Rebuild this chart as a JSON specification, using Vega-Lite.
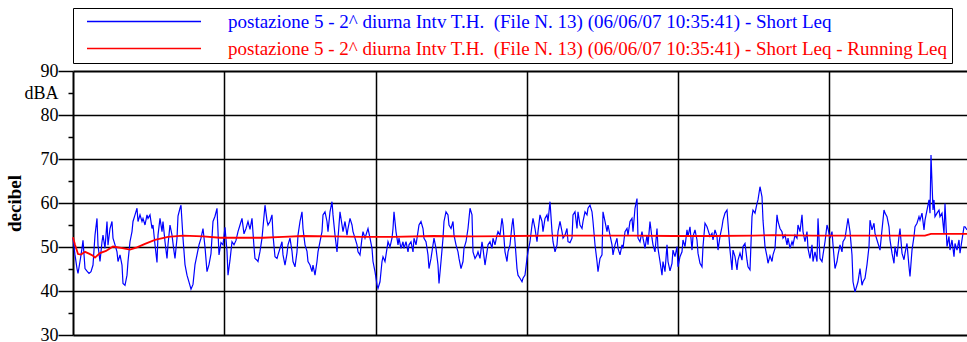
{
"$schema": "https://vega.github.io/schema/vega-lite/v6.json",
"width": 894, "height": 264,
"autosize": {"type": "none"},
"padding": {"left": 73, "top": 71, "right": 0, "bottom": 7},
"background": "white",
"config": {"font": "Liberation Serif", "view": {"stroke": null}},
"data": {"values": [
{"t":0,"v":52,"s":"short"},{"t":2,"v":48.2,"s":"short"},{"t":4,"v":45.1,"s":"short"},{"t":5,"v":44,"s":"short"},{"t":7,"v":46.7,"s":"short"},{"t":9,"v":49.7,"s":"short"},{"t":10,"v":51.5,"s":"short"},{"t":12,"v":45.1,"s":"short"},{"t":14,"v":44.5,"s":"short"},{"t":16,"v":44,"s":"short"},{"t":18,"v":44.4,"s":"short"},{"t":20,"v":45.9,"s":"short"},{"t":22,"v":52.7,"s":"short"},{"t":24,"v":56.5,"s":"short"},{"t":25,"v":50.4,"s":"short"},{"t":27,"v":46.7,"s":"short"},{"t":29,"v":51.2,"s":"short"},{"t":30,"v":52.7,"s":"short"},{"t":32,"v":49.7,"s":"short"},{"t":34,"v":55.8,"s":"short"},{"t":35,"v":50.4,"s":"short"},{"t":37,"v":54.2,"s":"short"},{"t":39,"v":55.8,"s":"short"},{"t":40,"v":52,"s":"short"},{"t":42,"v":50.5,"s":"short"},{"t":44,"v":48.9,"s":"short"},{"t":45,"v":46.7,"s":"short"},{"t":47,"v":48.2,"s":"short"},{"t":49,"v":45.9,"s":"short"},{"t":50,"v":41.7,"s":"short"},{"t":52,"v":41.3,"s":"short"},{"t":54,"v":43.6,"s":"short"},{"t":55,"v":46.7,"s":"short"},{"t":57,"v":51.2,"s":"short"},{"t":59,"v":53.5,"s":"short"},{"t":60,"v":55.8,"s":"short"},{"t":62,"v":57.3,"s":"short"},{"t":64,"v":58.8,"s":"short"},{"t":65,"v":55.8,"s":"short"},{"t":67,"v":57.3,"s":"short"},{"t":69,"v":55.8,"s":"short"},{"t":70,"v":56.5,"s":"short"},{"t":72,"v":55,"s":"short"},{"t":74,"v":57.3,"s":"short"},{"t":75,"v":56.5,"s":"short"},{"t":77,"v":57.3,"s":"short"},{"t":79,"v":54.2,"s":"short"},{"t":80,"v":55,"s":"short"},{"t":82,"v":50.5,"s":"short"},{"t":84,"v":46.5,"s":"short"},{"t":85,"v":52.7,"s":"short"},{"t":87,"v":56.5,"s":"short"},{"t":89,"v":53.5,"s":"short"},{"t":90,"v":55.8,"s":"short"},{"t":92,"v":51.2,"s":"short"},{"t":94,"v":47.4,"s":"short"},{"t":95,"v":50.5,"s":"short"},{"t":97,"v":55,"s":"short"},
{"t":99,"v":52.7,"s":"short"},{"t":101,"v":49,"s":"short"},{"t":102,"v":47.4,"s":"short"},{"t":104,"v":52,"s":"short"},{"t":105,"v":57,"s":"short"},{"t":107,"v":58.8,"s":"short"},{"t":108,"v":59.5,"s":"short"},{"t":110,"v":52,"s":"short"},{"t":112,"v":46,"s":"short"},{"t":114,"v":43.6,"s":"short"},{"t":116,"v":42,"s":"short"},{"t":118,"v":40.4,"s":"short"},{"t":120,"v":41.5,"s":"short"},{"t":122,"v":46,"s":"short"},{"t":124,"v":48.2,"s":"short"},{"t":126,"v":50.5,"s":"short"},{"t":128,"v":52,"s":"short"},{"t":130,"v":54.2,"s":"short"},{"t":132,"v":50,"s":"short"},{"t":134,"v":44.4,"s":"short"},{"t":136,"v":46,"s":"short"},{"t":138,"v":48.5,"s":"short"},{"t":140,"v":55.8,"s":"short"},{"t":142,"v":57,"s":"short"},{"t":144,"v":58.8,"s":"short"},{"t":146,"v":48.2,"s":"short"},{"t":148,"v":51,"s":"short"},{"t":150,"v":50.5,"s":"short"},{"t":152,"v":54.5,"s":"short"},{"t":154,"v":49,"s":"short"},{"t":155,"v":43.6,"s":"short"},{"t":157,"v":47,"s":"short"},{"t":159,"v":51.2,"s":"short"},{"t":161,"v":50.5,"s":"short"},{"t":163,"v":51.5,"s":"short"},{"t":165,"v":53.5,"s":"short"},{"t":167,"v":55,"s":"short"},{"t":169,"v":56.5,"s":"short"},{"t":171,"v":53,"s":"short"},{"t":173,"v":54.2,"s":"short"},{"t":175,"v":55.8,"s":"short"},{"t":177,"v":54,"s":"short"},{"t":179,"v":56.5,"s":"short"},{"t":181,"v":50,"s":"short"},{"t":182,"v":47.4,"s":"short"},{"t":184,"v":47,"s":"short"},{"t":185,"v":46.7,"s":"short"},{"t":187,"v":49,"s":"short"},{"t":189,"v":52,"s":"short"},{"t":191,"v":57,"s":"short"},{"t":192,"v":59.5,"s":"short"},{"t":194,"v":56,"s":"short"},{"t":195,"v":55,"s":"short"},
{"t":197,"v":55.8,"s":"short"},{"t":199,"v":57.3,"s":"short"},{"t":200,"v":52.7,"s":"short"},{"t":202,"v":47.8,"s":"short"},{"t":204,"v":47.4,"s":"short"},{"t":205,"v":48.2,"s":"short"},{"t":207,"v":49.7,"s":"short"},{"t":209,"v":51.2,"s":"short"},{"t":210,"v":48.2,"s":"short"},{"t":212,"v":45.9,"s":"short"},{"t":214,"v":48.5,"s":"short"},{"t":215,"v":50.5,"s":"short"},{"t":217,"v":52,"s":"short"},{"t":219,"v":49,"s":"short"},{"t":220,"v":46.7,"s":"short"},{"t":222,"v":45.5,"s":"short"},{"t":224,"v":48.9,"s":"short"},{"t":225,"v":52.7,"s":"short"},{"t":227,"v":55.8,"s":"short"},{"t":229,"v":58,"s":"short"},{"t":230,"v":54.2,"s":"short"},{"t":232,"v":50.5,"s":"short"},{"t":234,"v":49,"s":"short"},{"t":235,"v":46.7,"s":"short"},{"t":237,"v":45.9,"s":"short"},{"t":239,"v":44.4,"s":"short"},{"t":240,"v":45.9,"s":"short"},{"t":242,"v":43.6,"s":"short"},{"t":244,"v":46.7,"s":"short"},{"t":245,"v":48.9,"s":"short"},{"t":247,"v":51.2,"s":"short"},{"t":249,"v":53.5,"s":"short"},{"t":250,"v":57.3,"s":"short"},{"t":252,"v":58,"s":"short"},{"t":254,"v":55.8,"s":"short"},{"t":255,"v":53.5,"s":"short"},{"t":257,"v":58,"s":"short"},{"t":259,"v":60.3,"s":"short"},{"t":260,"v":57.3,"s":"short"},{"t":262,"v":52.7,"s":"short"},{"t":264,"v":48.9,"s":"short"},{"t":265,"v":52,"s":"short"},{"t":267,"v":58,"s":"short"},{"t":269,"v":55,"s":"short"},{"t":270,"v":53.5,"s":"short"},{"t":272,"v":55.8,"s":"short"},{"t":274,"v":52.7,"s":"short"},{"t":275,"v":54.2,"s":"short"},{"t":277,"v":56.5,"s":"short"},{"t":279,"v":55,"s":"short"},{"t":280,"v":53.5,"s":"short"},{"t":282,"v":52,"s":"short"},{"t":284,"v":50.5,"s":"short"},{"t":285,"v":48.9,"s":"short"},{"t":287,"v":48.2,"s":"short"},{"t":289,"v":52,"s":"short"},{"t":290,"v":53.5,"s":"short"},{"t":292,"v":52,"s":"short"},{"t":294,"v":53.5,"s":"short"},{"t":295,"v":54.2,"s":"short"},
{"t":297,"v":52,"s":"short"},{"t":299,"v":49.7,"s":"short"},{"t":300,"v":46.7,"s":"short"},{"t":302,"v":44.4,"s":"short"},{"t":304,"v":41.4,"s":"short"},{"t":305,"v":40.6,"s":"short"},{"t":307,"v":42.1,"s":"short"},{"t":309,"v":46.7,"s":"short"},{"t":310,"v":47.8,"s":"short"},{"t":312,"v":46.7,"s":"short"},{"t":314,"v":49.7,"s":"short"},{"t":315,"v":51.2,"s":"short"},{"t":317,"v":50,"s":"short"},{"t":319,"v":52,"s":"short"},{"t":320,"v":54.2,"s":"short"},{"t":321,"v":58,"s":"short"},{"t":323,"v":53.5,"s":"short"},{"t":325,"v":50.5,"s":"short"},{"t":326,"v":52,"s":"short"},{"t":328,"v":49.7,"s":"short"},{"t":330,"v":51.2,"s":"short"},{"t":331,"v":49.7,"s":"short"},{"t":333,"v":51.2,"s":"short"},{"t":335,"v":48.9,"s":"short"},{"t":336,"v":50.5,"s":"short"},{"t":338,"v":51.2,"s":"short"},{"t":340,"v":48.9,"s":"short"},{"t":341,"v":52,"s":"short"},{"t":343,"v":50.5,"s":"short"},{"t":345,"v":53.5,"s":"short"},{"t":346,"v":55,"s":"short"},{"t":348,"v":55.8,"s":"short"},{"t":350,"v":54.2,"s":"short"},{"t":351,"v":52,"s":"short"},{"t":353,"v":51.2,"s":"short"},{"t":355,"v":48.2,"s":"short"},{"t":356,"v":45.1,"s":"short"},{"t":358,"v":47.4,"s":"short"},{"t":360,"v":50.5,"s":"short"},{"t":361,"v":52,"s":"short"},{"t":363,"v":49.7,"s":"short"},{"t":365,"v":45.9,"s":"short"},{"t":366,"v":41.7,"s":"short"},{"t":368,"v":46.7,"s":"short"},{"t":370,"v":52,"s":"short"},{"t":371,"v":55.8,"s":"short"},{"t":373,"v":58,"s":"short"},{"t":375,"v":57.3,"s":"short"},{"t":376,"v":55,"s":"short"},{"t":378,"v":54.2,"s":"short"},{"t":380,"v":55.8,"s":"short"},{"t":381,"v":52.7,"s":"short"},{"t":383,"v":50.5,"s":"short"},{"t":385,"v":48.9,"s":"short"},{"t":386,"v":47.4,"s":"short"},{"t":388,"v":45.1,"s":"short"},{"t":390,"v":46.7,"s":"short"},{"t":391,"v":49.7,"s":"short"},{"t":393,"v":51.2,"s":"short"},{"t":395,"v":54.2,"s":"short"},{"t":396,"v":56.5,"s":"short"},
{"t":397,"v":58.8,"s":"short"},{"t":399,"v":57.3,"s":"short"},{"t":400,"v":48.9,"s":"short"},{"t":402,"v":47.4,"s":"short"},{"t":404,"v":48.2,"s":"short"},{"t":405,"v":48.9,"s":"short"},{"t":407,"v":47.4,"s":"short"},{"t":409,"v":51.2,"s":"short"},{"t":410,"v":49.7,"s":"short"},{"t":412,"v":45.9,"s":"short"},{"t":414,"v":48.9,"s":"short"},{"t":415,"v":50.5,"s":"short"},{"t":417,"v":51.2,"s":"short"},{"t":419,"v":49.7,"s":"short"},{"t":420,"v":52,"s":"short"},{"t":422,"v":50.5,"s":"short"},{"t":424,"v":52.7,"s":"short"},{"t":425,"v":53.5,"s":"short"},{"t":427,"v":52.7,"s":"short"},{"t":429,"v":56.5,"s":"short"},{"t":430,"v":55,"s":"short"},{"t":432,"v":48.9,"s":"short"},{"t":434,"v":46.7,"s":"short"},{"t":435,"v":48.9,"s":"short"},{"t":437,"v":50.5,"s":"short"},{"t":439,"v":55,"s":"short"},{"t":440,"v":56.5,"s":"short"},{"t":442,"v":51.2,"s":"short"},{"t":444,"v":45.1,"s":"short"},{"t":445,"v":43.6,"s":"short"},{"t":447,"v":42.9,"s":"short"},{"t":449,"v":42.1,"s":"short"},{"t":450,"v":42.9,"s":"short"},{"t":452,"v":43.6,"s":"short"},{"t":454,"v":47.4,"s":"short"},{"t":455,"v":48.9,"s":"short"},{"t":457,"v":51.2,"s":"short"},{"t":459,"v":55,"s":"short"},{"t":460,"v":56.5,"s":"short"},{"t":462,"v":54.2,"s":"short"},{"t":464,"v":51.2,"s":"short"},{"t":465,"v":53.5,"s":"short"},{"t":467,"v":57.3,"s":"short"},{"t":469,"v":55.8,"s":"short"},{"t":470,"v":53.5,"s":"short"},{"t":472,"v":56.5,"s":"short"},{"t":474,"v":57.3,"s":"short"},{"t":475,"v":55.8,"s":"short"},{"t":477,"v":60.3,"s":"short"},{"t":479,"v":53.5,"s":"short"},{"t":480,"v":51.2,"s":"short"},{"t":482,"v":48.9,"s":"short"},{"t":484,"v":50.5,"s":"short"},{"t":485,"v":53.5,"s":"short"},{"t":487,"v":55.8,"s":"short"},{"t":489,"v":53.5,"s":"short"},{"t":490,"v":52,"s":"short"},{"t":492,"v":52.7,"s":"short"},{"t":494,"v":54.2,"s":"short"},{"t":495,"v":51.2,"s":"short"},
{"t":497,"v":51,"s":"short"},{"t":499,"v":52,"s":"short"},{"t":500,"v":57.3,"s":"short"},{"t":502,"v":58,"s":"short"},{"t":504,"v":54.2,"s":"short"},{"t":505,"v":58,"s":"short"},{"t":507,"v":55,"s":"short"},{"t":509,"v":54.2,"s":"short"},{"t":510,"v":55.8,"s":"short"},{"t":512,"v":58,"s":"short"},{"t":514,"v":57.3,"s":"short"},{"t":515,"v":58.8,"s":"short"},{"t":517,"v":59.5,"s":"short"},{"t":519,"v":58,"s":"short"},{"t":520,"v":55.8,"s":"short"},{"t":522,"v":50.5,"s":"short"},{"t":524,"v":46.7,"s":"short"},{"t":525,"v":44.4,"s":"short"},{"t":527,"v":47.4,"s":"short"},{"t":529,"v":48.2,"s":"short"},{"t":530,"v":58,"s":"short"},{"t":532,"v":55.8,"s":"short"},{"t":534,"v":53.5,"s":"short"},{"t":535,"v":55,"s":"short"},{"t":537,"v":52.7,"s":"short"},{"t":539,"v":50.5,"s":"short"},{"t":540,"v":48.2,"s":"short"},{"t":542,"v":50.5,"s":"short"},{"t":544,"v":52,"s":"short"},{"t":545,"v":49.7,"s":"short"},{"t":547,"v":48.2,"s":"short"},{"t":549,"v":50.5,"s":"short"},{"t":550,"v":49.7,"s":"short"},{"t":552,"v":53.5,"s":"short"},{"t":554,"v":54.2,"s":"short"},{"t":555,"v":52.7,"s":"short"},{"t":557,"v":55.8,"s":"short"},{"t":559,"v":56.5,"s":"short"},{"t":560,"v":53.5,"s":"short"},{"t":562,"v":58.8,"s":"short"},{"t":564,"v":61,"s":"short"},{"t":565,"v":52,"s":"short"},{"t":567,"v":51.2,"s":"short"},{"t":569,"v":53.5,"s":"short"},{"t":570,"v":52,"s":"short"},{"t":572,"v":49.7,"s":"short"},{"t":574,"v":52.7,"s":"short"},{"t":575,"v":50.5,"s":"short"},{"t":577,"v":55.8,"s":"short"},{"t":579,"v":52,"s":"short"},{"t":580,"v":50.5,"s":"short"},{"t":582,"v":48.9,"s":"short"},{"t":584,"v":54.2,"s":"short"},{"t":585,"v":49.7,"s":"short"},{"t":587,"v":46.7,"s":"short"},{"t":589,"v":43.6,"s":"short"},{"t":590,"v":46.7,"s":"short"},{"t":592,"v":44.4,"s":"short"},{"t":594,"v":50.5,"s":"short"},{"t":595,"v":46.7,"s":"short"},
{"t":597,"v":44.6,"s":"short"},{"t":599,"v":46.3,"s":"short"},{"t":600,"v":49.3,"s":"short"},{"t":602,"v":47.8,"s":"short"},{"t":604,"v":50.1,"s":"short"},{"t":605,"v":45.5,"s":"short"},{"t":607,"v":47.8,"s":"short"},{"t":609,"v":48.9,"s":"short"},{"t":610,"v":51.6,"s":"short"},{"t":612,"v":50.1,"s":"short"},{"t":614,"v":53.9,"s":"short"},{"t":615,"v":52.4,"s":"short"},{"t":617,"v":54.6,"s":"short"},{"t":619,"v":49.3,"s":"short"},{"t":620,"v":52.4,"s":"short"},{"t":622,"v":53.9,"s":"short"},{"t":624,"v":51.6,"s":"short"},{"t":625,"v":48.6,"s":"short"},{"t":627,"v":46.3,"s":"short"},{"t":629,"v":45.5,"s":"short"},{"t":630,"v":50.1,"s":"short"},{"t":632,"v":55.4,"s":"short"},{"t":634,"v":54.6,"s":"short"},{"t":635,"v":53.9,"s":"short"},{"t":637,"v":52.4,"s":"short"},{"t":639,"v":53.1,"s":"short"},{"t":640,"v":51.6,"s":"short"},{"t":642,"v":53.9,"s":"short"},{"t":644,"v":52.4,"s":"short"},{"t":645,"v":49.3,"s":"short"},{"t":647,"v":52.4,"s":"short"},{"t":649,"v":54.6,"s":"short"},{"t":650,"v":56.1,"s":"short"},{"t":652,"v":57.7,"s":"short"},{"t":654,"v":58.4,"s":"short"},{"t":655,"v":55.4,"s":"short"},{"t":657,"v":49.3,"s":"short"},{"t":659,"v":44.8,"s":"short"},{"t":660,"v":49.3,"s":"short"},{"t":662,"v":47.8,"s":"short"},{"t":664,"v":44.8,"s":"short"},{"t":665,"v":47,"s":"short"},{"t":667,"v":48.6,"s":"short"},{"t":669,"v":47,"s":"short"},{"t":670,"v":50.1,"s":"short"},{"t":672,"v":50.8,"s":"short"},{"t":674,"v":47,"s":"short"},{"t":675,"v":45.5,"s":"short"},{"t":677,"v":44.8,"s":"short"},{"t":679,"v":56.9,"s":"short"},{"t":680,"v":58.4,"s":"short"},{"t":682,"v":57.7,"s":"short"},{"t":684,"v":59.9,"s":"short"},{"t":685,"v":60.7,"s":"short"},{"t":687,"v":63.7,"s":"short"},{"t":689,"v":61.4,"s":"short"},{"t":690,"v":56.1,"s":"short"},{"t":692,"v":50.1,"s":"short"},{"t":694,"v":47.8,"s":"short"},{"t":695,"v":46.3,"s":"short"},
{"t":697,"v":48,"s":"short"},{"t":699,"v":46.7,"s":"short"},{"t":700,"v":48.2,"s":"short"},{"t":702,"v":49.7,"s":"short"},{"t":704,"v":57.3,"s":"short"},{"t":705,"v":55.8,"s":"short"},{"t":707,"v":54.2,"s":"short"},{"t":709,"v":53.5,"s":"short"},{"t":710,"v":52,"s":"short"},{"t":712,"v":52.7,"s":"short"},{"t":714,"v":50.5,"s":"short"},{"t":715,"v":52,"s":"short"},{"t":717,"v":49.7,"s":"short"},{"t":719,"v":51.2,"s":"short"},{"t":720,"v":50.5,"s":"short"},{"t":722,"v":52.7,"s":"short"},{"t":724,"v":52,"s":"short"},{"t":725,"v":55,"s":"short"},{"t":727,"v":53.5,"s":"short"},{"t":729,"v":57.3,"s":"short"},{"t":730,"v":53.5,"s":"short"},{"t":732,"v":51.2,"s":"short"},{"t":734,"v":53.5,"s":"short"},{"t":735,"v":49.7,"s":"short"},{"t":737,"v":47.4,"s":"short"},{"t":739,"v":50.5,"s":"short"},{"t":740,"v":46.7,"s":"short"},{"t":742,"v":48.9,"s":"short"},{"t":744,"v":46.7,"s":"short"},{"t":745,"v":56.5,"s":"short"},{"t":747,"v":47.4,"s":"short"},{"t":749,"v":46.7,"s":"short"},{"t":750,"v":48.2,"s":"short"},{"t":752,"v":51.2,"s":"short"},{"t":754,"v":55,"s":"short"},{"t":755,"v":54.2,"s":"short"},{"t":757,"v":52,"s":"short"},{"t":759,"v":53.5,"s":"short"},{"t":760,"v":50.5,"s":"short"},{"t":762,"v":45.1,"s":"short"},{"t":764,"v":46.7,"s":"short"},{"t":765,"v":48.2,"s":"short"},{"t":767,"v":50.5,"s":"short"},{"t":769,"v":48.9,"s":"short"},{"t":770,"v":51.2,"s":"short"},{"t":772,"v":52,"s":"short"},{"t":774,"v":55,"s":"short"},{"t":775,"v":56.5,"s":"short"},{"t":777,"v":53.5,"s":"short"},{"t":779,"v":48.2,"s":"short"},{"t":780,"v":42.1,"s":"short"},{"t":782,"v":39.8,"s":"short"},{"t":784,"v":41.3,"s":"short"},{"t":785,"v":42.1,"s":"short"},{"t":787,"v":45.1,"s":"short"},{"t":789,"v":41.3,"s":"short"},{"t":790,"v":42.1,"s":"short"},{"t":792,"v":42.9,"s":"short"},{"t":794,"v":46,"s":"short"},
{"t":796,"v":50.1,"s":"short"},{"t":797,"v":56.1,"s":"short"},{"t":799,"v":53.9,"s":"short"},{"t":801,"v":55.4,"s":"short"},{"t":802,"v":53.1,"s":"short"},{"t":804,"v":51.6,"s":"short"},{"t":806,"v":50.1,"s":"short"},{"t":807,"v":49.3,"s":"short"},{"t":809,"v":53.9,"s":"short"},{"t":811,"v":58.4,"s":"short"},{"t":812,"v":57.7,"s":"short"},{"t":814,"v":56.9,"s":"short"},{"t":816,"v":54.6,"s":"short"},{"t":817,"v":51.6,"s":"short"},{"t":819,"v":48.6,"s":"short"},{"t":821,"v":46.3,"s":"short"},{"t":822,"v":50.1,"s":"short"},{"t":824,"v":47.8,"s":"short"},{"t":826,"v":52.4,"s":"short"},{"t":827,"v":54.2,"s":"short"},{"t":829,"v":48.6,"s":"short"},{"t":831,"v":47.1,"s":"short"},{"t":832,"v":48.6,"s":"short"},{"t":834,"v":50.8,"s":"short"},{"t":836,"v":45.5,"s":"short"},{"t":837,"v":43.3,"s":"short"},{"t":839,"v":49.3,"s":"short"},{"t":841,"v":52.4,"s":"short"},{"t":842,"v":54.6,"s":"short"},{"t":844,"v":55.4,"s":"short"},{"t":846,"v":56.9,"s":"short"},{"t":847,"v":56.1,"s":"short"},{"t":849,"v":57.7,"s":"short"},{"t":851,"v":53.9,"s":"short"},{"t":852,"v":56.1,"s":"short"},{"t":854,"v":58.4,"s":"short"},{"t":856,"v":60.7,"s":"short"},{"t":857,"v":57.7,"s":"short"},{"t":858,"v":70.9,"s":"short"},{"t":860,"v":58.4,"s":"short"},{"t":861,"v":60.7,"s":"short"},{"t":862,"v":56.9,"s":"short"},{"t":864,"v":57.7,"s":"short"},{"t":866,"v":58.4,"s":"short"},{"t":867,"v":56.9,"s":"short"},{"t":869,"v":57.7,"s":"short"},{"t":871,"v":53.1,"s":"short"},{"t":872,"v":59.9,"s":"short"},{"t":874,"v":50.1,"s":"short"},{"t":876,"v":52.4,"s":"short"},{"t":877,"v":49.3,"s":"short"},{"t":879,"v":51.6,"s":"short"},{"t":881,"v":47.8,"s":"short"},{"t":882,"v":50.8,"s":"short"},{"t":884,"v":49.3,"s":"short"},{"t":886,"v":51.6,"s":"short"},{"t":887,"v":48.6,"s":"short"},{"t":889,"v":51.6,"s":"short"},{"t":891,"v":54.6,"s":"short"},{"t":892,"v":54.6,"s":"short"},{"t":894,"v":53.9,"s":"short"},
{"t":0,"v":52.2,"s":"running"},{"t":2,"v":50.5,"s":"running"},{"t":5,"v":48.4,"s":"running"},{"t":8,"v":48.3,"s":"running"},{"t":12,"v":48.9,"s":"running"},{"t":16,"v":48.5,"s":"running"},{"t":20,"v":48,"s":"running"},{"t":22,"v":47.6,"s":"running"},{"t":27,"v":48.6,"s":"running"},{"t":33,"v":49.1,"s":"running"},{"t":40,"v":50.1,"s":"running"},{"t":48,"v":49.8,"s":"running"},{"t":57,"v":49.4,"s":"running"},{"t":64,"v":49.9,"s":"running"},{"t":72,"v":50.7,"s":"running"},{"t":82,"v":51.6,"s":"running"},{"t":95,"v":52.3,"s":"running"},{"t":110,"v":52.6,"s":"running"},{"t":130,"v":52.4,"s":"running"},{"t":147,"v":52.1,"s":"running"},{"t":170,"v":52.1,"s":"running"},{"t":190,"v":52.1,"s":"running"},{"t":210,"v":52.3,"s":"running"},{"t":230,"v":52.5,"s":"running"},{"t":260,"v":52.4,"s":"running"},{"t":290,"v":52.3,"s":"running"},{"t":320,"v":52.3,"s":"running"},{"t":360,"v":52.5,"s":"running"},{"t":400,"v":52.4,"s":"running"},{"t":440,"v":52.5,"s":"running"},{"t":480,"v":52.6,"s":"running"},{"t":520,"v":52.6,"s":"running"},{"t":560,"v":52.6,"s":"running"},{"t":600,"v":52.5,"s":"running"},{"t":640,"v":52.5,"s":"running"},{"t":680,"v":52.6,"s":"running"},{"t":700,"v":52.7,"s":"running"},{"t":740,"v":52.6,"s":"running"},{"t":780,"v":52.6,"s":"running"},{"t":820,"v":52.6,"s":"running"},{"t":852,"v":52.6,"s":"running"},{"t":858,"v":53,"s":"running"},{"t":894,"v":53,"s":"running"}
]},
"encoding": {
  "y": {"field": "v", "type": "quantitative", "scale": {"domain": [30, 90], "nice": false, "zero": false},
    "axis": {"values": [30,35,40,45,50,55,60,65,70,75,80,85,90],
      "labelExpr": "datum.value == 85 ? 'dBA' : (datum.value % 10 == 0 ? datum.label : '')",
      "labelFontSize": 18, "labelColor": "#000", "labelPadding": 0,
      "tickColor": "#000", "tickWidth": 1.5, "tickSize": 15,
      "tickDash": {"condition": {"test": "datum.value % 10 != 0", "value": [5, 30]}, "value": []},
      "domain": true, "domainColor": "#000", "domainWidth": 2,
      "grid": true, "gridColor": "#000", "gridWidth": 1.5,
      "gridOpacity": {"condition": {"test": "datum.value % 10 == 0 && datum.value > 30 && datum.value < 90", "value": 1}, "value": 0},
      "title": "decibel", "titleFontSize": 19, "titleFontWeight": "bold", "titleColor": "#000", "titleX": -49, "titleY": 132}},
  "color": {"field": "s", "type": "nominal",
    "scale": {"domain": ["short", "running"], "range": ["#0000ff", "#ff0000"]},
    "legend": {"orient": "none", "legendX": 0, "legendY": -63, "title": null,
      "strokeColor": "#000", "padding": 4, "fillColor": "white",
      "symbolType": "stroke", "symbolSize": 12996, "symbolStrokeWidth": 1.5, "symbolOffset": 9,
      "clipHeight": 19, "rowPadding": 7, "labelFontSize": 19, "labelOffset": 26, "labelLimit": 0,
      "labelExpr": "datum.value == 'short' ? 'postazione 5 - 2^ diurna Intv T.H. \u00a0(File N. 13) (06/06/07 10:35:41) - Short Leq' : 'postazione 5 - 2^ diurna Intv T.H. \u00a0(File N. 13) (06/06/07 10:35:41) - Short Leq - Running Leq'",
      "encode": {"labels": {"update": {"fill": {"scale": "color", "field": "value"}}}}}}
},
"layer": [
  {"transform": [{"filter": "datum.s == 'short'"}],
   "mark": {"type": "line", "strokeWidth": 1.2},
   "encoding": {"x": {"field": "t", "type": "quantitative", "scale": {"domain": [0, 894], "nice": false, "zero": false},
     "axis": {"orient": "bottom", "values": [151, 303, 454, 605, 756], "labels": false, "ticks": false, "title": null,
       "domain": true, "domainColor": "#000", "domainWidth": 2, "grid": true, "gridColor": "#000", "gridWidth": 1.5}}}},
  {"transform": [{"filter": "datum.s == 'running'"}],
   "mark": {"type": "line", "strokeWidth": 1.8},
   "encoding": {"x": {"field": "t", "type": "quantitative",
     "axis": {"orient": "top", "labels": false, "ticks": false, "title": null, "grid": false,
       "domain": true, "domainColor": "#000", "domainWidth": 2}}}}
],
"resolve": {"axis": {"x": "independent"}}
}
